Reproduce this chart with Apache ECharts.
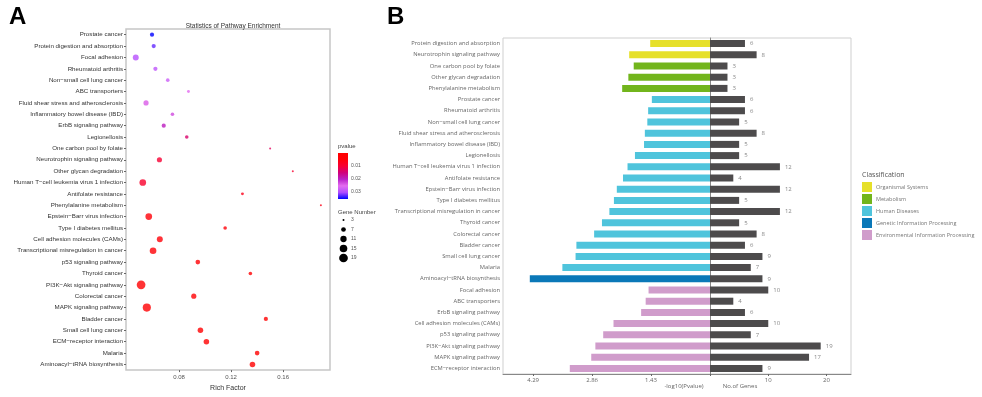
<!DOCTYPE html>
<html>
<head>
<meta charset="utf-8">
<script src="https://cdn.jsdelivr.net/npm/echarts@6/dist/echarts.min.js"></script>
<style>
  html, body { margin: 0; padding: 0; background: #fff; }
  #chart { width: 982px; height: 397px; }
</style>
</head>
<body>
<div id="chart"></div>
<script>
// panel B: pathways in plotted order (top to bottom)
const pathwaysB = [
  'Protein digestion and absorption', 'Neurotrophin signaling pathway', 'One carbon pool by folate',
  'Other glycan degradation', 'Phenylalanine metabolism', 'Prostate cancer', 'Rheumatoid arthritis',
  'Non\u2212small cell lung cancer', 'Fluid shear stress and atherosclerosis', 'Inflammatory bowel disease (IBD)',
  'Legionellosis', 'Human T\u2212cell leukemia virus 1 infection', 'Antifolate resistance',
  'Epstein\u2212Barr virus infection', 'Type I diabetes mellitus', 'Transcriptional misregulation in cancer',
  'Thyroid cancer', 'Colorectal cancer', 'Bladder cancer', 'Small cell lung cancer', 'Malaria',
  'Aminoacyl\u2212tRNA biosynthesis', 'Focal adhesion', 'ABC transporters', 'ErbB signaling pathway',
  'Cell adhesion molecules (CAMs)', 'p53 signaling pathway', 'PI3K\u2212Akt signaling pathway',
  'MAPK signaling pathway', 'ECM\u2212receptor interaction'
]
const logP = [1.45, 1.96, 1.85, 1.98, 2.13, 1.41, 1.50, 1.52, 1.58, 1.60, 1.82, 2.00, 2.11, 2.26, 2.33,
  2.44, 2.62, 2.81, 3.24, 3.26, 3.58, 4.37, 1.49, 1.56, 1.67, 2.34, 2.59, 2.78, 2.88, 3.40]
const geneCount = [6, 8, 3, 3, 3, 6, 6, 5, 8, 5, 5, 12, 4, 12, 5, 12, 5, 8, 6, 9, 7, 9, 10, 4, 6, 10, 7, 19, 17, 9]
const classIdx = [0, 0, 1, 1, 1, 2, 2, 2, 2, 2, 2, 2, 2, 2, 2, 2, 2, 2, 2, 2, 2, 3, 4, 4, 4, 4, 4, 4, 4, 4]
const classNames = ['Organismal Systems', 'Metabolism', 'Human Diseases', 'Genetic Information Processing', 'Environmental Information Processing']
const logTicks = [1.43, 2.86, 4.29]
const geneTicks = [10, 20]

// panel A: pathways in plotted order (top to bottom) and rich factor
const pathwaysA = [
  'Prostate cancer', 'Protein digestion and absorption', 'Focal adhesion', 'Rheumatoid arthritis',
  'Non\u2212small cell lung cancer', 'ABC transporters', 'Fluid shear stress and atherosclerosis',
  'Inflammatory bowel disease (IBD)', 'ErbB signaling pathway', 'Legionellosis', 'One carbon pool by folate',
  'Neurotrophin signaling pathway', 'Other glycan degradation', 'Human T\u2212cell leukemia virus 1 infection',
  'Antifolate resistance', 'Phenylalanine metabolism', 'Epstein\u2212Barr virus infection',
  'Type I diabetes mellitus', 'Cell adhesion molecules (CAMs)', 'Transcriptional misregulation in cancer',
  'p53 signaling pathway', 'Thyroid cancer', 'PI3K\u2212Akt signaling pathway', 'Colorectal cancer',
  'MAPK signaling pathway', 'Bladder cancer', 'Small cell lung cancer', 'ECM\u2212receptor interaction',
  'Malaria', 'Aminoacyl\u2212tRNA biosynthesis'
]
const richFactor = [0.0592, 0.0605, 0.0467, 0.0618, 0.0713, 0.0872, 0.0546, 0.0749, 0.0682, 0.0859, 0.150,
  0.0649, 0.1674, 0.0521, 0.1287, 0.189, 0.0567, 0.1154, 0.0652, 0.060, 0.0944, 0.1348, 0.0508, 0.0913,
  0.0552, 0.1467, 0.0964, 0.1010, 0.140, 0.1364]
const richTicks = [0.08, 0.12, 0.16]
const sizeLegend = [3, 7, 11, 15, 19]
const pLegend = [0.01, 0.02, 0.03]

const classColors = ['#e6e02a', '#72b51c', '#4fc4dc', '#0a78b8', '#d09ccb']
const pColors = ['#ff0000', '#ff0008', '#f80034', '#d0007c', '#b820c8', '#e46cf0', '#b04cff', '#0000ff']
const pMax = 0.0386

const dotSize = n => Math.sqrt(4.5 * n - 9.5)

const chart = echarts.init(document.getElementById('chart'))

// scatter data for panel A, p-value and gene count looked up from panel B
const scatterData = pathwaysA.map((name, i) => {
  const j = pathwaysB.indexOf(name)
  return [richFactor[i], name, geneCount[j], Math.pow(10, -logP[j])]
})

// one stacked series per class so that the legend lists the classes
const classSeries = classNames.map((cname, c) => ({
  name: cname,
  type: 'bar',
  xAxisIndex: 1,
  yAxisIndex: 1,
  stack: 'cls',
  barWidth: 7,
  itemStyle: { color: classColors[c] },
  data: logP.map((v, i) => (classIdx[i] === c ? v : null))
}))

const fontA = 'Liberation Sans'
const fontB = 'Open Sans'

// gradient legend for p-value
const lg = { x: 338, y: 153, w: 10, h: 46 }
const pGraphic = [
  { type: 'text', left: 338, top: 143, style: { text: 'pvalue', font: '6px ' + fontA, fill: '#444' } },
  {
    type: 'rect', shape: { x: lg.x, y: lg.y, width: lg.w, height: lg.h },
    style: {
      fill: new echarts.graphic.LinearGradient(0, 0, 0, 1,
        pColors.map((c, k) => ({ offset: k / (pColors.length - 1), color: c })))
    }
  }
]
pLegend.forEach(v => {
  const yy = lg.y + (v / 0.036) * lg.h
  pGraphic.push({ type: 'text', x: 351, y: yy, style: { text: v.toFixed(2), font: '5px ' + fontA, fill: '#555', verticalAlign: 'middle' } })
})
const sizeGraphic = [
  { type: 'text', left: 338, top: 209, style: { text: 'Gene Number', font: '6px ' + fontA, fill: '#444' } }
]
sizeLegend.forEach((n, k) => {
  const yy = 220 + k * 9.5
  sizeGraphic.push({ type: 'circle', shape: { cx: 343.5, cy: yy, r: dotSize(n) / 2 }, style: { fill: '#000' } })
  sizeGraphic.push({ type: 'text', x: 351, y: yy, style: { text: String(n), font: '5px ' + fontA, fill: '#555', verticalAlign: 'middle' } })
})

const option = {
  animation: false,
  grid: [
    { left: 126, top: 29, width: 204, height: 350, show: true, borderColor: '#c6c6c6', borderWidth: 1.5 },
    { left: 503, top: 38, width: 207, height: 336 },
    { left: 710, top: 38, width: 141, height: 336 }
  ],
  visualMap: {
    show: false,
    type: 'continuous',
    seriesIndex: 0,
    dimension: 3,
    min: 0,
    max: pMax,
    inRange: { color: pColors }
  },
  legend: {
    orient: 'vertical',
    left: 862,
    top: 182,
    itemWidth: 10,
    itemHeight: 10,
    itemGap: 2,
    padding: 0,
    icon: 'rect',
    data: classNames,
    textStyle: { fontSize: 5.5, color: '#777', fontFamily: fontB, padding: [0, 0, 0, -1] }
  },
  xAxis: [
    {
      gridIndex: 0, type: 'value', min: 0.0392, max: 0.196,
      name: 'Rich Factor', nameLocation: 'middle', nameGap: 10,
      nameTextStyle: { fontSize: 7, color: '#333', fontFamily: fontA },
      axisLine: { show: false },
      axisTick: { show: true, length: 2, lineStyle: { color: '#666' }, customValues: richTicks },
      axisLabel: { fontSize: 6, color: '#555', margin: 4, fontFamily: fontA, customValues: richTicks, formatter: v => v.toFixed(2) },
      splitLine: { show: false }
    },
    {
      gridIndex: 1, type: 'value', min: 0, max: 5.02, inverse: true,
      axisLine: { show: true, lineStyle: { color: '#888', width: 1 } },
      axisTick: { show: true, length: 2, lineStyle: { color: '#666' }, customValues: [0].concat(logTicks) },
      axisLabel: { fontSize: 6, color: '#666', margin: 3, fontFamily: fontB, customValues: logTicks, formatter: v => v.toFixed(2) },
      splitLine: { show: false }
    },
    {
      gridIndex: 2, type: 'value', min: 0, max: 24.2,
      axisLine: { show: true, lineStyle: { color: '#888', width: 1 } },
      axisTick: { show: true, length: 2, lineStyle: { color: '#666' }, customValues: [0].concat(geneTicks) },
      axisLabel: { fontSize: 6, color: '#666', margin: 3, fontFamily: fontB, customValues: geneTicks },
      splitLine: { show: false }
    }
  ],
  yAxis: [
    {
      gridIndex: 0, type: 'category', data: pathwaysA, inverse: true,
      axisLine: { show: false },
      axisTick: { show: true, length: 2, alignWithLabel: true, lineStyle: { color: '#666' } },
      axisLabel: { fontSize: 6.2, color: '#333', margin: 3, fontFamily: fontA }
    },
    {
      gridIndex: 1, type: 'category', data: pathwaysB, inverse: true,
      axisLine: { show: true, lineStyle: { color: '#888', width: 1 } },
      axisTick: { show: true, length: 2, alignWithLabel: true, lineStyle: { color: '#666' } },
      axisLabel: { fontSize: 5.8, color: '#666', margin: 3, fontFamily: fontB }
    },
    {
      gridIndex: 2, type: 'category', data: pathwaysB, inverse: true,
      axisLine: { show: false }, axisTick: { show: false }, axisLabel: { show: false }
    }
  ],
  title: [
    { text: 'A', left: 4, top: 0, textStyle: { fontSize: 24, fontWeight: 'bold', color: '#000', fontFamily: fontA } },
    { text: 'B', left: 382, top: 0, textStyle: { fontSize: 24, fontWeight: 'bold', color: '#000', fontFamily: fontA } },
    { text: 'Statistics of Pathway Enrichment', left: 228, top: 18, textAlign: 'center', textStyle: { fontSize: 6.5, fontWeight: 'normal', color: '#333', fontFamily: fontA } }
  ],
  graphic: [
    { type: 'rect', z: -1, shape: { x: 503, y: 38, width: 348, height: 336 }, style: { fill: 'none', stroke: '#cfcfcf', lineWidth: 1 } },
    { type: 'text', left: 862, top: 171, style: { text: 'Classification', font: '7px ' + fontB, fill: '#555' } },
    { type: 'text', x: 684, y: 386, style: { text: '-log10(Pvalue)', font: '6px ' + fontB, fill: '#666', align: 'center', verticalAlign: 'middle' } },
    { type: 'text', x: 740, y: 386, style: { text: 'No.of Genes', font: '6px ' + fontB, fill: '#666', align: 'center', verticalAlign: 'middle' } }
  ].concat(pGraphic, sizeGraphic),
  series: [
    {
      type: 'scatter',
      xAxisIndex: 0,
      yAxisIndex: 0,
      data: scatterData,
      symbolSize: v => dotSize(v[2])
    }
  ].concat(classSeries, [
    {
      name: 'genes',
      type: 'bar',
      xAxisIndex: 2,
      yAxisIndex: 2,
      barWidth: 7,
      itemStyle: { color: '#4d4b4c' },
      label: { show: true, position: 'right', distance: 5, fontSize: 6, color: '#888', fontFamily: fontB },
      data: geneCount
    }
  ])
}

chart.setOption(option)
</script>
</body>
</html>
